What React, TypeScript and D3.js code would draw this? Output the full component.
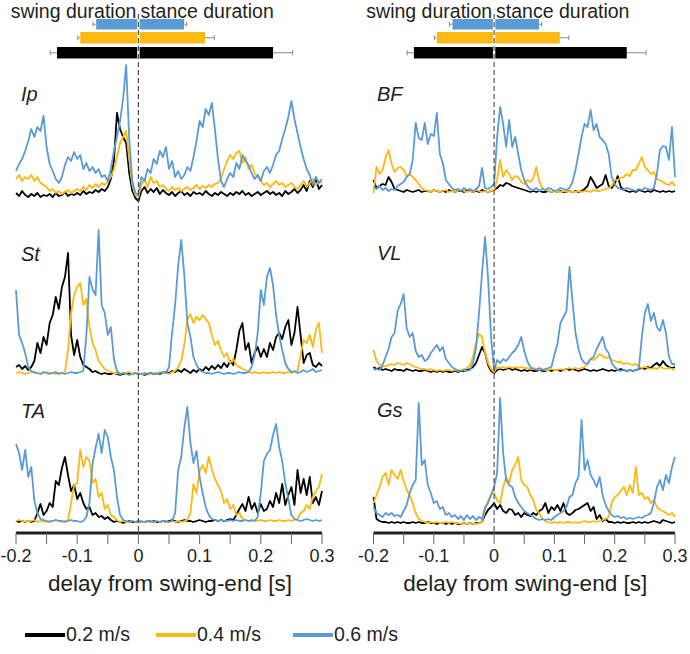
import * as d3 from "d3";

// time axis: -0.2 .. 0.3 s, one sample every 5 ms
const T0 = -0.2;
const DT = 0.005;

const speeds = ["0.2 m/s", "0.4 m/s", "0.6 m/s"];
const colors = ["#000000", "#FDB913", "#5B9BD5"];

// swing / stance durations per speed [s] (mean, sd)
const swingDur = [0.133, 0.095, 0.069];
const swingSd = [0.011, 0.004, 0.005];
const stanceDur = [0.22, 0.109, 0.0745];
const stanceSd = [0.032, 0.015, 0.0045];

const tickVals = [-0.2, -0.15, -0.1, -0.05, 0, 0.05, 0.1, 0.15, 0.2, 0.25, 0.3];
const tickLabels = ["-0.2", "-0.1", "0", "0.1", "0.2", "0.3"];

// muscle activity (a.u.) — black 0.2, orange 0.4, blue 0.6 m/s
const ipBlack = [6,3,8,4,2,5,3,6,2,4,3,5,2,6,3,4,7,3,5,4,6,4,8,5,7,6,9,7,10,8,12,20,38,86,70,62,56,26,8,1,-2,8,12,6,10,7,11,5,9,6,4,7,3,6,8,4,6,3,7,5,6,4,8,5,3,6,4,7,5,3,6,4,7,5,8,4,6,3,5,7,4,6,8,5,7,4,6,3,8,5,7,10,6,9,14,8,18,12,20,10,14];
const ipOrange = [20,24,18,22,20,24,18,22,16,14,12,8,10,6,8,5,7,9,6,8,10,8,12,9,14,11,15,12,16,14,18,22,30,42,56,62,68,40,14,4,2,14,20,12,22,16,18,12,14,10,8,12,9,11,8,10,12,9,11,14,10,13,11,14,12,15,16,20,30,38,44,40,46,48,36,42,30,34,26,22,18,14,16,12,15,18,14,16,12,14,16,12,10,14,18,12,16,20,14,18,16];
const ipBlue = [28,35,40,48,58,70,62,72,68,83,52,35,28,20,16,22,34,42,38,47,40,44,30,36,28,32,26,30,22,24,18,30,48,62,78,100,134,60,18,6,4,22,18,30,26,40,35,48,42,52,30,38,22,28,20,24,32,28,42,58,78,72,90,84,96,70,40,18,12,20,26,22,36,30,44,38,34,26,20,24,18,28,32,26,34,44,48,60,70,82,98,80,66,52,40,30,24,14,22,16,20];

const stBlack = [8,10,6,9,5,8,14,32,22,38,30,52,60,78,66,88,98,122,40,20,35,18,10,8,6,3,4,2,1,2,1,1,2,1,0,1,2,1,1,2,1,1,0,1,2,1,2,1,2,3,2,4,3,5,3,6,4,2,5,3,6,4,8,5,9,6,10,7,12,8,14,10,25,44,52,25,32,12,22,28,18,26,18,32,25,38,42,36,48,55,30,42,68,40,12,20,22,10,8,12,9];
const stOrange = [2,3,2,1,2,3,2,2,1,2,3,2,2,1,2,2,3,25,62,80,88,92,70,76,48,32,25,14,10,6,4,3,2,2,1,2,2,3,1,2,2,1,1,2,1,2,2,3,2,2,1,3,4,8,14,30,55,61,52,58,55,60,56,52,40,30,34,25,18,22,12,16,10,8,6,5,3,2,3,2,2,3,2,2,3,2,3,2,2,3,2,3,4,20,35,32,40,28,45,52,22];
const stBlue = [85,40,32,22,8,4,3,2,1,3,2,1,2,3,1,2,1,2,3,2,2,3,4,40,98,86,80,145,70,62,40,48,16,4,1,2,1,0,1,2,1,1,2,1,2,1,1,2,3,2,8,42,70,110,135,100,52,38,18,10,5,3,2,2,1,2,3,2,1,2,2,1,2,3,2,2,3,8,20,42,85,70,98,107,90,60,40,25,12,6,3,4,2,3,5,3,4,6,3,4,5];

const taBlack = [2,1,2,1,2,1,2,10,19,8,12,20,16,42,38,55,66,48,32,38,24,30,20,14,16,8,10,6,7,4,6,3,1,2,1,0,1,2,1,1,2,1,1,2,1,2,1,1,2,1,2,3,2,1,2,3,2,2,1,2,3,2,1,2,2,3,2,3,2,3,4,3,8,14,19,12,26,14,20,10,19,12,14,22,16,30,20,39,18,28,36,18,53,30,44,28,46,20,26,18,32];
const taOrange = [2,3,2,1,2,2,3,1,2,2,1,2,2,3,2,1,2,2,20,38,40,73,56,66,62,40,44,26,30,14,18,8,6,3,1,2,1,1,2,1,2,1,1,2,1,1,2,1,2,1,1,2,1,2,1,2,3,10,39,30,52,58,50,66,54,44,38,32,20,24,14,18,8,10,4,3,2,2,3,2,3,2,2,3,2,2,3,2,2,3,2,3,4,10,12,18,14,26,32,36,49];
const taBlue = [79,70,53,73,46,56,22,10,4,3,2,1,2,3,2,2,1,2,3,2,2,1,2,6,20,59,75,89,70,93,86,66,53,26,8,3,2,1,2,1,1,2,1,2,2,1,2,1,2,2,1,2,10,53,66,95,116,80,60,72,46,30,16,8,4,3,2,3,2,2,3,2,3,2,2,3,2,3,2,6,30,62,69,73,88,99,76,62,40,24,8,4,3,2,3,4,3,2,3,2,3];

const bfBlack = [14,6,8,10,9,17,12,5,4,3,2,4,3,2,3,4,2,3,3,2,4,3,2,3,2,4,3,2,3,3,2,4,3,2,3,2,4,3,2,3,4,6,9,8,11,10,8,7,6,5,4,3,2,3,2,3,2,2,3,2,3,2,3,2,2,3,2,3,2,3,5,8,17,12,6,8,10,19,8,6,10,18,7,4,3,2,3,2,4,3,2,3,2,4,3,2,3,2,3,2,3];
const bfOrange = [1,27,20,24,36,44,30,22,26,27,24,18,20,17,14,10,6,4,3,2,4,3,2,3,4,2,3,2,3,4,3,2,3,2,4,3,2,3,2,3,4,14,34,17,24,20,14,18,17,12,10,14,12,16,27,12,6,4,3,2,3,2,2,3,2,3,2,2,3,2,3,3,2,4,3,3,4,5,6,8,14,14,16,17,20,18,24,24,30,37,27,24,20,22,15,14,12,10,9,12,8];
const bfBlue = [7,5,8,4,6,3,5,4,8,10,12,17,20,34,71,56,54,71,50,60,58,81,40,31,14,10,6,4,5,3,6,4,5,3,5,8,26,6,5,7,10,57,87,70,47,74,47,57,40,24,14,8,5,4,6,3,5,4,6,5,3,4,6,5,4,6,12,24,40,57,70,67,84,64,70,57,54,50,40,17,10,6,5,4,6,5,4,3,5,4,6,5,4,6,20,44,48,47,34,67,17];

const vlBlack = [6,4,5,3,4,3,2,4,3,3,2,4,3,2,3,2,2,3,2,1,2,1,2,1,2,1,1,2,1,2,2,3,4,6,10,18,26,20,8,2,0,3,4,3,4,5,3,4,3,2,3,2,3,2,2,3,2,2,3,2,3,3,2,3,4,3,4,3,2,3,4,3,2,3,2,3,4,3,2,3,2,3,4,3,2,3,2,3,4,5,4,6,5,8,10,7,12,8,6,5,6];
const vlOrange = [23,12,8,6,7,8,9,8,10,9,8,10,9,7,6,5,4,4,3,4,3,2,3,2,3,3,2,3,2,3,4,5,8,16,30,39,36,20,10,4,1,6,5,6,5,6,5,6,5,6,5,5,4,5,4,3,4,3,3,4,3,3,4,3,4,5,4,5,4,5,6,10,14,13,15,19,17,15,16,13,12,11,11,9,10,9,8,9,6,5,6,5,4,5,4,6,5,4,5,4,3];
const vlBlue = [3,4,3,8,16,24,36,40,62,69,79,45,36,40,22,16,18,12,14,20,24,28,22,26,14,10,6,4,3,2,3,2,3,10,25,60,100,136,95,36,3,13,10,14,12,16,20,23,28,36,22,12,6,4,3,5,3,4,5,6,18,29,50,56,62,106,72,40,24,14,10,9,14,16,24,30,36,24,20,10,6,3,2,3,2,3,2,3,4,36,60,69,52,60,46,42,53,40,16,9,9];

const gsBlack = [28,6,4,3,3,2,3,2,3,2,3,2,2,3,2,3,2,2,3,2,2,1,2,2,1,2,1,2,1,1,2,1,2,1,2,2,3,10,15,18,22,16,20,14,12,16,15,10,12,8,12,10,9,12,10,14,16,22,12,18,15,20,14,22,12,10,12,15,16,18,20,22,14,18,6,10,4,6,3,3,2,3,2,3,2,2,3,2,3,2,3,2,3,4,3,2,5,4,3,2,3];
const gsOrange = [22,30,38,48,52,40,55,50,46,55,44,35,30,22,12,6,4,3,2,3,2,3,2,2,3,2,3,2,2,1,2,1,2,1,1,2,3,15,24,30,32,25,22,38,48,42,55,60,68,45,40,38,30,25,15,12,6,4,3,2,3,2,3,2,3,3,2,3,2,3,4,3,3,4,3,4,5,6,8,22,28,30,34,38,30,40,32,58,30,32,26,28,22,25,18,15,14,12,10,12,8];
const gsBlue = [18,12,10,8,12,10,12,9,10,8,14,20,32,40,45,122,60,65,40,32,22,24,16,18,10,12,8,10,6,9,5,10,6,9,5,8,6,18,22,30,38,52,127,72,45,40,38,28,22,18,14,12,10,8,6,5,6,5,6,5,8,10,12,14,18,28,30,42,48,105,55,65,50,45,38,48,30,20,14,10,8,9,7,8,6,7,6,7,8,7,9,10,12,22,38,45,35,50,42,58,68];

const columns = [
  {
    x0: 16, x1: 322, labelX: 21,
    panels: [
      { name: "Ip", base: 199, labelY: 101, series: [ipBlack, ipOrange, ipBlue] },
      { name: "St", base: 375, labelY: 261, series: [stBlack, stOrange, stBlue] },
      { name: "TA", base: 523, labelY: 418, series: [taBlack, taOrange, taBlue] },
    ],
  },
  {
    x0: 373.5, x1: 675, labelX: 377,
    panels: [
      { name: "BF", base: 194, labelY: 101, series: [bfBlack, bfOrange, bfBlue] },
      { name: "VL", base: 373, labelY: 260, series: [vlBlack, vlOrange, vlBlue] },
      { name: "Gs", base: 525, labelY: 417, series: [gsBlack, gsOrange, gsBlue] },
    ],
  },
];

const AXIS_Y = 533;
const FONT = "Liberation Sans, Arial, sans-serif";
const INK = "#231F20";

function Column({ col }: any) {
  const x = d3.scaleLinear().domain([-0.2, 0.3]).range([col.x0, col.x1]);
  const zero = x(0);
  const barRows = [
    { top: 19, h: 10.5 },
    { top: 32, h: 11.5 },
    { top: 47, h: 11.5 },
  ];
  // rows from top: 0.6, 0.4, 0.2
  const order = [2, 1, 0];

  return (
    <g fontFamily={FONT} fill={INK}>
      <text x={zero - 2} y={18} fontSize={19.5} textAnchor="end">swing duration</text>
      <text x={zero + 2} y={18} fontSize={19.5}>stance duration</text>

      {order.map((k, r) => {
        const { top, h } = barRows[r];
        const mid = top + h / 2;
        const xs = x(-swingDur[k]);
        const xe = x(stanceDur[k]);
        const xsE = x(-swingDur[k] - swingSd[k]);
        const xeE = x(stanceDur[k] + stanceSd[k]);
        return (
          <g key={k}>
            <line x1={xsE} x2={xs} y1={mid} y2={mid} stroke="#8a8a8a" strokeWidth={1} />
            <line x1={xsE} x2={xsE} y1={mid - 2.5} y2={mid + 2.5} stroke="#8a8a8a" strokeWidth={1} />
            <line x1={xe} x2={xeE} y1={mid} y2={mid} stroke="#8a8a8a" strokeWidth={1} />
            <line x1={xeE} x2={xeE} y1={mid - 2.5} y2={mid + 2.5} stroke="#8a8a8a" strokeWidth={1} />
            <rect x={xs} y={top} width={zero - 1.2 - xs} height={h} fill={colors[k]} />
            <rect x={zero + 1.2} y={top} width={xe - zero - 1.2} height={h} fill={colors[k]} />
          </g>
        );
      })}

      {col.panels.map((p: any) => {
        const y = d3.scaleLinear().domain([0, 100]).range([p.base, p.base - 100]);
        const line = d3
          .line<number>()
          .x((_, i) => x(T0 + i * DT))
          .y((d) => y(d));
        return (
          <g key={p.name}>
            {p.series.map((s: number[], k: number) => (
              <path
                key={k}
                d={line(s) || ""}
                fill="none"
                stroke={colors[k]}
                strokeWidth={1.8}
                strokeLinejoin="round"
              />
            ))}
            <text x={col.labelX} y={p.labelY} fontSize={20} fontStyle="italic">{p.name}</text>
          </g>
        );
      })}

      <line x1={zero} x2={zero} y1={14} y2={AXIS_Y} stroke="#444" strokeWidth={1.1} strokeDasharray="5,3" />

      <line x1={col.x0} x2={col.x1} y1={AXIS_Y} y2={AXIS_Y} stroke={INK} strokeWidth={3} />
      {tickVals.map((t) => (
        <line key={t} x1={x(t)} x2={x(t)} y1={AXIS_Y} y2={AXIS_Y + 11} stroke="#666" strokeWidth={1} />
      ))}
      {tickLabels.map((lab) => (
        <text key={lab} x={x(+lab)} y={562} fontSize={18} textAnchor="middle">{lab}</text>
      ))}
      <text x={(col.x0 + col.x1) / 2 + 1} y={591} fontSize={22.5} textAnchor="middle">delay from swing-end [s]</text>
    </g>
  );
}

export default function App() {
  const legendX = [25, 156, 293];
  return (
    <svg width={690} height={654} style={{ position: "absolute", left: 0, top: 0, background: "#fff" }}>
      {columns.map((c, i) => (
        <Column key={i} col={c} />
      ))}
      {speeds.map((s, k) => (
        <g key={s}>
          <line x1={legendX[k]} x2={legendX[k] + 40} y1={635} y2={635} stroke={colors[k]} strokeWidth={4} />
          <text x={legendX[k] + 41} y={641} fontSize={19.5} fontFamily={FONT} fill={INK}>{s}</text>
        </g>
      ))}
    </svg>
  );
}
